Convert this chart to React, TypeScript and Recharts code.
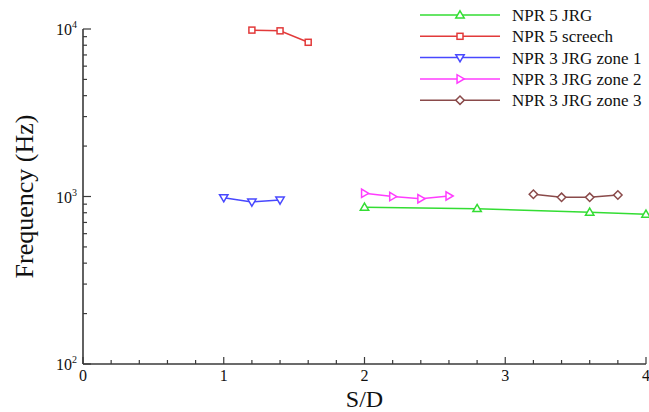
import React from 'react';
import { LineChart, Line, XAxis, YAxis, Legend, Label } from 'recharts';

// ---- data ----
const npr5JrgSD = [2.0, 2.8, 3.6, 4.0];
const npr5JrgHz = [862, 846, 805, 783];
const npr5ScreechSD = [1.2, 1.4, 1.6];
const npr5ScreechHz = [9850, 9750, 8330];
const zone1SD = [1.0, 1.2, 1.4];
const zone1Hz = [984, 927, 953];
const zone2SD = [2.0, 2.2, 2.4, 2.6];
const zone2Hz = [1045, 999, 970, 1007];
const zone3SD = [3.2, 3.4, 3.6, 3.8];
const zone3Hz = [1031, 989, 989, 1021];

const xTicks = [0, 0.2, 0.4, 0.6, 0.8, 1, 1.2, 1.4, 1.6, 1.8, 2, 2.2, 2.4, 2.6, 2.8, 3, 3.2, 3.4, 3.6, 3.8, 4];
const xMajor = [0, 1, 2, 3, 4];
const yTicks = [100, 200, 300, 400, 500, 600, 700, 800, 900, 1000, 2000, 3000, 4000, 5000, 6000, 7000, 8000, 9000, 10000];
const yMajor = [100, 1000, 10000];
const yMajorExp: Record<number, string> = { 100: '2', 1000: '3', 10000: '4' };

const zip = (xs: number[], ys: number[]) => xs.map((x, i) => ({ x, y: ys[i] }));

const series = [
  { name: 'NPR 5 JRG', color: '#33dd33', shape: 'up', data: zip(npr5JrgSD, npr5JrgHz) },
  { name: 'NPR 5 screech', color: '#e23a3a', shape: 'square', data: zip(npr5ScreechSD, npr5ScreechHz) },
  { name: 'NPR 3 JRG zone 1', color: '#4848ff', shape: 'down', data: zip(zone1SD, zone1Hz) },
  { name: 'NPR 3 JRG zone 2', color: '#ff3cff', shape: 'right', data: zip(zone2SD, zone2Hz) },
  { name: 'NPR 3 JRG zone 3', color: '#8a4a4a', shape: 'diamond', data: zip(zone3SD, zone3Hz) },
];

const FONT = '"Liberation Serif", "Times New Roman", serif';
const AXIS = '#3a3a3a';

function Marker({ cx, cy, shape, color }: { cx: number; cy: number; shape: string; color: string }) {
  const r = 4.2;
  const common = { fill: '#ffffff', stroke: color, strokeWidth: 1.5 };
  if (shape === 'square') return <rect x={cx - 3} y={cy - 3} width={6} height={6} {...common} />;
  if (shape === 'up')
    return <polygon points={`${cx},${cy - r} ${cx + r},${cy + r * 0.7} ${cx - r},${cy + r * 0.7}`} {...common} />;
  if (shape === 'down')
    return <polygon points={`${cx},${cy + r} ${cx + r},${cy - r * 0.7} ${cx - r},${cy - r * 0.7}`} {...common} />;
  if (shape === 'right')
    return <polygon points={`${cx + r},${cy} ${cx - r * 0.7},${cy - r} ${cx - r * 0.7},${cy + r}`} {...common} />;
  return <polygon points={`${cx},${cy - r} ${cx + r},${cy} ${cx},${cy + r} ${cx - r},${cy}`} {...common} />;
}

function XTick(props: any) {
  const { x, y, payload } = props;
  const v = payload.value;
  const major = xMajor.some((m) => Math.abs(m - v) < 1e-9);
  return (
    <g>
      <line x1={x} x2={x} y1={y} y2={y - (major ? 7 : 4)} stroke={AXIS} strokeWidth={1.2} />
      {major && (
        <text x={x} y={y + 17} textAnchor="middle" fontFamily={FONT} fontSize={16} fill="#111">
          {String(v)}
        </text>
      )}
    </g>
  );
}

function YTick(props: any) {
  const { x, y, payload } = props;
  const v = payload.value;
  const major = yMajor.includes(v);
  return (
    <g>
      <line x1={x} x2={x + (major ? 8 : 4)} y1={y} y2={y} stroke={AXIS} strokeWidth={1.2} />
      {major && (
        <text x={x - 6} y={y + 6} textAnchor="end" fontFamily={FONT} fontSize={16} fill="#111">
          <tspan>10</tspan>
          <tspan fontSize={10} dy={-7}>{yMajorExp[v]}</tspan>
        </text>
      )}
    </g>
  );
}

function LegendContent() {
  return (
    <svg width={649} height={115} style={{ display: 'block' }}>
      {series.map((s, i) => {
        const cy = 15 + i * 21.3;
        return (
          <g key={s.name}>
            <line x1={420} x2={500} y1={cy} y2={cy} stroke={s.color} strokeWidth={1.5} />
            <Marker cx={460} cy={cy} shape={s.shape} color={s.color} />
            <text x={512} y={cy + 6} fontFamily={FONT} fontSize={17} fill="#111">
              {s.name}
            </text>
          </g>
        );
      })}
    </svg>
  );
}

export default function App() {
  return (
    <div style={{ position: 'absolute', left: 0, top: 0, width: 649, height: 412, background: '#fff' }}>
      <LineChart width={649} height={412} margin={{ top: 29, right: 3, bottom: 0, left: 0 }}>
        <XAxis
          dataKey="x"
          type="number"
          domain={[0, 4]}
          ticks={xTicks}
          interval={0}
          height={48}
          tickSize={0}
          tickMargin={0}
          tickLine={false}
          axisLine={{ stroke: AXIS, strokeWidth: 1.6 }}
          tick={<XTick />}
        >
          <Label
            content={(p: any) => {
              const vb = p.viewBox || {};
              return (
                <text x={vb.x + vb.width / 2} y={vb.y + 42.5} textAnchor="middle" fontFamily={FONT} fontSize={24} fill="#111">
                  S/D
                </text>
              );
            }}
          />
        </XAxis>
        <YAxis
          dataKey="y"
          type="number"
          scale="log"
          domain={[100, 10000]}
          ticks={yTicks}
          interval={0}
          width={83}
          tickSize={0}
          tickMargin={0}
          tickLine={false}
          axisLine={{ stroke: AXIS, strokeWidth: 1.6 }}
          tick={<YTick />}
        >
          <Label
            content={(p: any) => {
              const vb = p.viewBox || {};
              const cy = vb.y + vb.height / 2;
              return (
                <text
                  x={24}
                  y={cy}
                  transform={`rotate(-90, 24, ${cy})`}
                  textAnchor="middle"
                  dominantBaseline="central"
                  fontFamily={FONT}
                  fontSize={26}
                  fill="#111"
                >
                  Frequency (Hz)
                </text>
              );
            }}
          />
        </YAxis>
        <Legend
          layout="vertical"
          align="center"
          verticalAlign="middle"
          content={<LegendContent />}
          wrapperStyle={{ position: 'absolute', left: 0, top: 0, width: 649, height: 115 }}
        />
        {series.map((s) => (
          <Line
            key={s.name}
            name={s.name}
            data={s.data}
            dataKey="y"
            stroke={s.color}
            strokeWidth={1.5}
            isAnimationActive={false}
            dot={(p: any) => <Marker key={`${s.name}-${p.index}`} cx={p.cx} cy={p.cy} shape={s.shape} color={s.color} />}
            activeDot={false}
          />
        ))}
      </LineChart>
    </div>
  );
}
